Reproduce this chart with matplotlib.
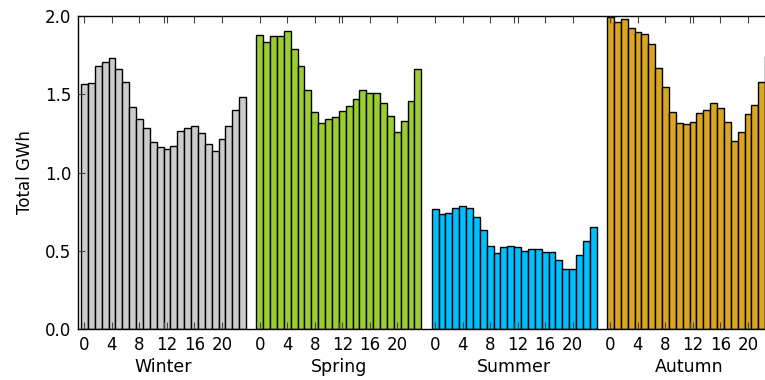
import matplotlib
matplotlib.use('Agg')
import matplotlib.pyplot as plt
import numpy as np

# hourly totals (GWh) per season
seasons = ['Winter', 'Spring', 'Summer', 'Autumn']
hours = np.arange(24)

winter = [1.564, 1.570, 1.679, 1.706, 1.732, 1.661, 1.578, 1.419, 1.342, 1.284,
          1.193, 1.163, 1.148, 1.171, 1.263, 1.284, 1.297, 1.255, 1.184, 1.139,
          1.212, 1.299, 1.397, 1.480]
spring = [1.877, 1.832, 1.874, 1.874, 1.902, 1.791, 1.683, 1.527, 1.389, 1.318,
          1.342, 1.355, 1.391, 1.427, 1.470, 1.525, 1.510, 1.510, 1.446, 1.361,
          1.261, 1.327, 1.455, 1.661]
summer = [0.767, 0.735, 0.739, 0.773, 0.786, 0.773, 0.718, 0.633, 0.532, 0.484,
          0.526, 0.532, 0.526, 0.498, 0.509, 0.509, 0.492, 0.492, 0.441, 0.383,
          0.383, 0.475, 0.562, 0.654]
autumn = [1.995, 1.960, 1.981, 1.923, 1.896, 1.883, 1.819, 1.668, 1.546, 1.389,
          1.318, 1.310, 1.325, 1.382, 1.397, 1.446, 1.410, 1.325, 1.203, 1.261,
          1.376, 1.433, 1.576, 1.746]

season_values = [winter, spring, summer, autumn]
season_colors = ['#cccccc', '#9acd32', '#00bfff', '#daa520']

hour_ticks = [0, 4, 8, 12, 16, 20]
y_ticks = [0.0, 0.5, 1.0, 1.5, 2.0]

offset = 25.5   # spacing between season groups, in hours
px_per_unit = 6.876

W, H = 765, 380
fig = plt.figure(figsize=(W / 100, H / 100), dpi=100, facecolor='white')
ax_w = 700
ax = fig.add_axes([78 / W, 51 / H, ax_w / W, 313 / H])

for s, (vals, col) in enumerate(zip(season_values, season_colors)):
    ax.bar(hours + s * offset, vals, width=1.0, color=col,
           edgecolor='black', linewidth=1.0, align='center')

xmin = -0.936
ax.set_xlim(xmin, xmin + ax_w / px_per_unit)
ax.set_ylim(0, 2.0)

major = [s * offset + h for s in range(4) for h in hour_ticks]
ax.set_xticks(major)
ax.set_xticklabels([str(h) for s in range(4) for h in hour_ticks], fontsize=12)
ax.set_xticks([s * offset + 11.5 for s in range(4)], minor=True)
ax.set_xticklabels(seasons, minor=True, fontsize=12.5)

ax.set_yticks(y_ticks)
ax.set_yticklabels(['%.1f' % v for v in y_ticks], fontsize=12)
ax.set_ylabel('Total GWh', fontsize=12, labelpad=8)

ax.tick_params(axis='both', which='both', direction='in', top=True, right=True,
               color='#444444')
ax.tick_params(axis='x', which='major', length=5, width=0.8, pad=5)
ax.tick_params(axis='x', which='minor', length=5, width=0.8, pad=21)
ax.tick_params(axis='y', which='major', length=5, width=0.8, pad=5)

for sp in ax.spines.values():
    sp.set_linewidth(1.0)

fig.savefig('out.png', dpi=100, facecolor='white')
